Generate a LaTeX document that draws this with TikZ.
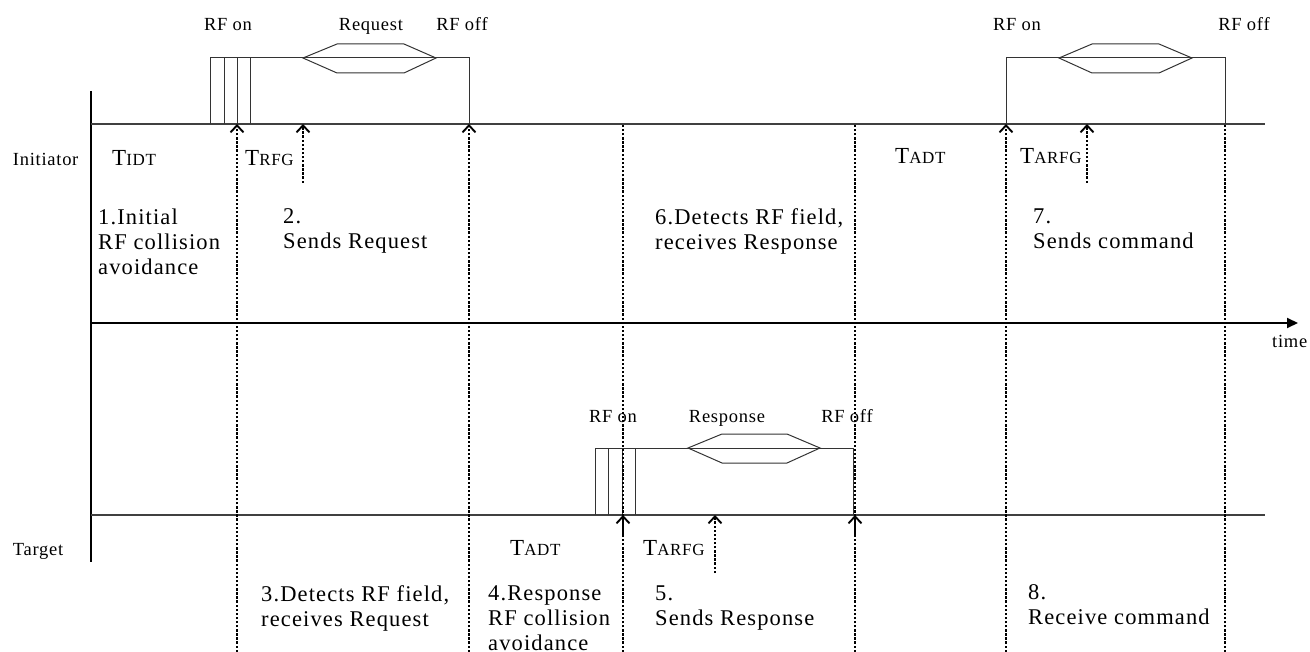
\documentclass[tikz,border=0pt]{standalone}
\usepackage{fontspec}
\setmainfont{Liberation Serif}[LetterSpace=4]
\newfontfamily\wideserif{Liberation Serif}[LetterSpace=5]
\usetikzlibrary{arrows.meta}
\newcommand\tlab[2]{{\fontsize{23}{25}\selectfont #1}{\fontsize{17}{20}\selectfont #2}}
\begin{document}
\begin{tikzpicture}[x=1pt,y=-1pt,
  baseln/.style={draw=black!75,line width=1.1pt},
  sig/.style={draw=black!80,line width=1pt},
  dotl/.style={line width=1.8pt,dash pattern=on 2.4pt off 1.7pt},
  tick/.style={dotl,-{Straight Barb[length=7pt,width=13pt,line width=1.9pt]}},
  lbl/.style={font=\fontsize{18.5}{20}\selectfont,inner sep=0pt,anchor=base},
  tl/.style={inner sep=0pt,anchor=base west},
  stxt/.style={font=\wideserif\fontsize{22.5}{25}\selectfont,inner sep=0pt,anchor=north west,align=left},
]
\useasboundingbox (0,0) rectangle (1310,652);

% axes
\coordinate (vtop) at (91,91);
\coordinate (vbot) at (91,562);
\draw[line width=1.3pt] (vtop) -- (vbot);
\coordinate (iL) at (91,124);
\coordinate (iR) at (1265,124);
\coordinate (tL) at (91,515);
\coordinate (tR) at (1265,515);
\draw[baseln] (iL) -- (iR);
\draw[baseln] (tL) -- (tR);
\coordinate (aL) at (91,323);
\coordinate (aR) at (1298,323);
\draw[line width=2pt,-{Triangle[length=11pt,width=10pt]}] (aL) -- (aR);
\node[lbl,anchor=base west] (time) at (1272,348) {time};

\node[lbl,anchor=base west] (ini) at (12.7,166) {Initiator};
\node[lbl,anchor=base west] (tgt) at (12.7,555) {Target};

% initiator signal 1
\draw[sig] (210,124) -- (210,58) -- (469,58) -- (469,124);
\foreach \x in {224,237,250} \draw[sig] (\x,58) -- (\x,124);
\draw[sig] (303,58) -- (337,44) -- (404,44) -- (436,58) -- (404,73) -- (337,73) -- cycle;
\node[lbl] (ion1) at (228,31) {RF on};
\node[lbl] (ireq) at (371,31) {Request};
\node[lbl] (ioff1) at (462,31) {RF off};

% initiator signal 2
\draw[sig] (1006,124) -- (1006,58) -- (1225,58) -- (1225,124);
\draw[sig] (1059,58) -- (1092,44) -- (1159,44) -- (1192,58) -- (1159,73) -- (1092,73) -- cycle;
\node[lbl] (ion2) at (1017,31) {RF on};
\node[lbl] (ioff2) at (1244,31) {RF off};

% target signal
\draw[sig] (595,515) -- (595,448) -- (853,448) -- (853,515);
\foreach \x in {608,622,635} \draw[sig] (\x,448) -- (\x,515);
\draw[sig] (688,448) -- (722,434) -- (787,434) -- (820,448) -- (787,463) -- (722,463) -- cycle;
\node[lbl] (ton) at (613,422) {RF on};
\node[lbl] (tresp) at (727,422) {Response};
\node[lbl] (toff) at (847,422) {RF off};

% timing labels
\node[tl] (tidt) at (112,166) {\tlab{T}{IDT}};
\node[tl] (trfg) at (245,166) {\tlab{T}{RFG}};
\node[tl] (tadt1) at (895,164) {\tlab{T}{ADT}};
\node[tl] (tarfg1) at (1020,164) {\tlab{T}{ARFG}};
\node[tl] (tadt2) at (510,555) {\tlab{T}{ADT}};
\node[tl] (tarfg2) at (643,555) {\tlab{T}{ARFG}};

% step texts
\node[stxt] (s1) at (98,208.6) {1.Initial\\RF collision\\avoidance};
\node[stxt] (s2) at (283,208.6) {2.\\Sends Request};
\node[stxt] (s6) at (655,208.6) {6.Detects RF field,\\receives Response};
\node[stxt] (s7) at (1033,208.6) {7.\\Sends command};
\node[stxt] (s3) at (261,585.6) {3.Detects RF field,\\receives Request};
\node[stxt] (s4) at (488,585.6) {4.Response\\RF collision\\avoidance};
\node[stxt] (s5) at (655,585.6) {5.\\Sends Response};
\node[stxt] (s8) at (1028,584.6) {8.\\Receive command};

% dotted markers
\foreach \n/\x in {a/237,b/469,c/1006} {
  \coordinate (\n bot) at (\x,652);
  \coordinate (\n top) at (\x,124);
  \draw[tick] (\n bot) -- (\n top);
}
\foreach \n/\x in {d/623,e/855,f/1225} {
  \coordinate (\n bot) at (\x,652);
  \coordinate (\n top) at (\x,124);
  \draw[dotl] (\n bot) -- (\n top);
}
\foreach \n/\x in {d/623,e/855} {
  \coordinate (\n lo) at (\x,535);
  \coordinate (\n hi) at (\x,515);
  \draw[tick] (\n lo) -- (\n hi);
}
\coordinate (g1) at (303,183); \coordinate (g2) at (303,124);
\draw[tick] (g1) -- (g2);
\coordinate (h1) at (1087,183); \coordinate (h2) at (1087,124);
\draw[tick] (h1) -- (h2);
\coordinate (k1) at (715,573); \coordinate (k2) at (715,515);
\draw[tick] (k1) -- (k2);
\end{tikzpicture}
\end{document}
